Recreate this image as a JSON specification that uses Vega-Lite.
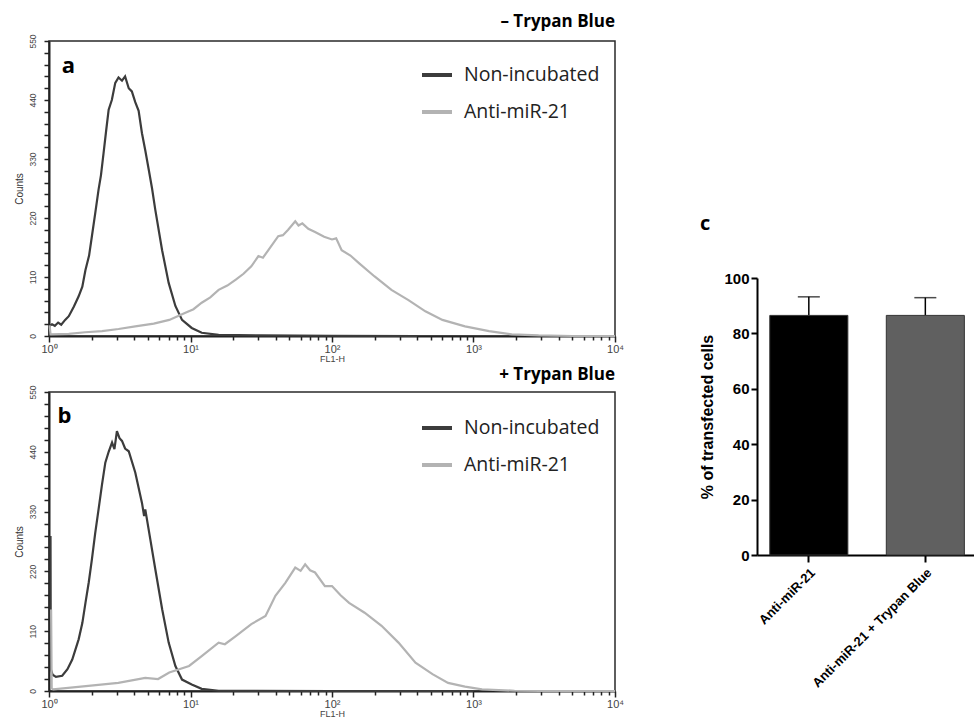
{
  "$schema": "https://vega.github.io/schema/vega-lite/v6.json",
  "padding": {"left": 13, "top": 12, "right": 0, "bottom": 0},
  "background": "white",
  "config": {"view": {"stroke": "#2a2a2a", "strokeWidth": 1.5}, "font": "Liberation Sans"},
  "datasets": {
    "histA": [
      {"fl": 1.0, "count": 18, "sample": "Non-incubated"},
      {"fl": 1.05, "count": 22, "sample": "Non-incubated"},
      {"fl": 1.1, "count": 19, "sample": "Non-incubated"},
      {"fl": 1.16, "count": 25, "sample": "Non-incubated"},
      {"fl": 1.22, "count": 21, "sample": "Non-incubated"},
      {"fl": 1.3, "count": 30, "sample": "Non-incubated"},
      {"fl": 1.38, "count": 37, "sample": "Non-incubated"},
      {"fl": 1.5, "count": 55, "sample": "Non-incubated"},
      {"fl": 1.62, "count": 74, "sample": "Non-incubated"},
      {"fl": 1.72, "count": 92, "sample": "Non-incubated"},
      {"fl": 1.81, "count": 123, "sample": "Non-incubated"},
      {"fl": 1.92, "count": 150, "sample": "Non-incubated"},
      {"fl": 2.01, "count": 186, "sample": "Non-incubated"},
      {"fl": 2.12, "count": 228, "sample": "Non-incubated"},
      {"fl": 2.24, "count": 273, "sample": "Non-incubated"},
      {"fl": 2.33, "count": 300, "sample": "Non-incubated"},
      {"fl": 2.43, "count": 341, "sample": "Non-incubated"},
      {"fl": 2.54, "count": 385, "sample": "Non-incubated"},
      {"fl": 2.64, "count": 422, "sample": "Non-incubated"},
      {"fl": 2.78, "count": 440, "sample": "Non-incubated"},
      {"fl": 2.94, "count": 472, "sample": "Non-incubated"},
      {"fl": 3.1, "count": 482, "sample": "Non-incubated"},
      {"fl": 3.28, "count": 476, "sample": "Non-incubated"},
      {"fl": 3.45, "count": 484, "sample": "Non-incubated"},
      {"fl": 3.66, "count": 462, "sample": "Non-incubated"},
      {"fl": 3.85, "count": 456, "sample": "Non-incubated"},
      {"fl": 4.07, "count": 436, "sample": "Non-incubated"},
      {"fl": 4.3, "count": 420, "sample": "Non-incubated"},
      {"fl": 4.54, "count": 378, "sample": "Non-incubated"},
      {"fl": 4.8, "count": 345, "sample": "Non-incubated"},
      {"fl": 5.07, "count": 310, "sample": "Non-incubated"},
      {"fl": 5.35, "count": 275, "sample": "Non-incubated"},
      {"fl": 5.64, "count": 235, "sample": "Non-incubated"},
      {"fl": 6.3, "count": 160, "sample": "Non-incubated"},
      {"fl": 7.01, "count": 99, "sample": "Non-incubated"},
      {"fl": 7.82, "count": 56, "sample": "Non-incubated"},
      {"fl": 8.71, "count": 30, "sample": "Non-incubated"},
      {"fl": 10.2, "count": 15, "sample": "Non-incubated"},
      {"fl": 12.0, "count": 6, "sample": "Non-incubated"},
      {"fl": 15.8, "count": 2, "sample": "Non-incubated"},
      {"fl": 31.6, "count": 1, "sample": "Non-incubated"},
      {"fl": 100, "count": 0.5, "sample": "Non-incubated"},
      {"fl": 400, "count": 0, "sample": "Non-incubated"},
      {"fl": 1.01, "count": 20, "sample": "Anti-miR-21"},
      {"fl": 1.025, "count": 3, "sample": "Anti-miR-21"},
      {"fl": 1.38, "count": 4, "sample": "Anti-miR-21"},
      {"fl": 1.8, "count": 7, "sample": "Anti-miR-21"},
      {"fl": 2.37, "count": 9, "sample": "Anti-miR-21"},
      {"fl": 3.1, "count": 13, "sample": "Anti-miR-21"},
      {"fl": 4.07, "count": 18, "sample": "Anti-miR-21"},
      {"fl": 5.5, "count": 23, "sample": "Anti-miR-21"},
      {"fl": 7.08, "count": 30, "sample": "Anti-miR-21"},
      {"fl": 9.12, "count": 43, "sample": "Anti-miR-21"},
      {"fl": 10.5, "count": 50, "sample": "Anti-miR-21"},
      {"fl": 12.0, "count": 62, "sample": "Anti-miR-21"},
      {"fl": 13.8, "count": 72, "sample": "Anti-miR-21"},
      {"fl": 15.8, "count": 86, "sample": "Anti-miR-21"},
      {"fl": 18.2, "count": 94, "sample": "Anti-miR-21"},
      {"fl": 20.9, "count": 105, "sample": "Anti-miR-21"},
      {"fl": 23.7, "count": 116, "sample": "Anti-miR-21"},
      {"fl": 26.9, "count": 130, "sample": "Anti-miR-21"},
      {"fl": 30.2, "count": 149, "sample": "Anti-miR-21"},
      {"fl": 32.5, "count": 146, "sample": "Anti-miR-21"},
      {"fl": 35.5, "count": 160, "sample": "Anti-miR-21"},
      {"fl": 41.7, "count": 186, "sample": "Anti-miR-21"},
      {"fl": 45.0, "count": 188, "sample": "Anti-miR-21"},
      {"fl": 49.0, "count": 198, "sample": "Anti-miR-21"},
      {"fl": 55.0, "count": 214, "sample": "Anti-miR-21"},
      {"fl": 58.0, "count": 206, "sample": "Anti-miR-21"},
      {"fl": 61.7, "count": 210, "sample": "Anti-miR-21"},
      {"fl": 68.0, "count": 200, "sample": "Anti-miR-21"},
      {"fl": 75.9, "count": 194, "sample": "Anti-miR-21"},
      {"fl": 88.0, "count": 185, "sample": "Anti-miR-21"},
      {"fl": 100, "count": 180, "sample": "Anti-miR-21"},
      {"fl": 107, "count": 182, "sample": "Anti-miR-21"},
      {"fl": 117, "count": 160, "sample": "Anti-miR-21"},
      {"fl": 135, "count": 150, "sample": "Anti-miR-21"},
      {"fl": 155, "count": 136, "sample": "Anti-miR-21"},
      {"fl": 200, "count": 111, "sample": "Anti-miR-21"},
      {"fl": 263, "count": 86, "sample": "Anti-miR-21"},
      {"fl": 347, "count": 67, "sample": "Anti-miR-21"},
      {"fl": 457, "count": 46, "sample": "Anti-miR-21"},
      {"fl": 603, "count": 30, "sample": "Anti-miR-21"},
      {"fl": 871, "count": 18, "sample": "Anti-miR-21"},
      {"fl": 1288, "count": 9, "sample": "Anti-miR-21"},
      {"fl": 1862, "count": 3, "sample": "Anti-miR-21"},
      {"fl": 2884, "count": 1, "sample": "Anti-miR-21"},
      {"fl": 5000, "count": 0, "sample": "Anti-miR-21"},
      {"fl": 10000, "count": 0, "sample": "Anti-miR-21"}
    ],
    "histB": [
      {"fl": 1.025, "count": 285, "sample": "Non-incubated"},
      {"fl": 1.03, "count": 40, "sample": "Non-incubated"},
      {"fl": 1.06, "count": 30, "sample": "Non-incubated"},
      {"fl": 1.12, "count": 26, "sample": "Non-incubated"},
      {"fl": 1.24, "count": 28, "sample": "Non-incubated"},
      {"fl": 1.35, "count": 40, "sample": "Non-incubated"},
      {"fl": 1.46, "count": 58, "sample": "Non-incubated"},
      {"fl": 1.62, "count": 95, "sample": "Non-incubated"},
      {"fl": 1.72, "count": 125, "sample": "Non-incubated"},
      {"fl": 1.81, "count": 162, "sample": "Non-incubated"},
      {"fl": 1.91, "count": 200, "sample": "Non-incubated"},
      {"fl": 2.01, "count": 242, "sample": "Non-incubated"},
      {"fl": 2.12, "count": 290, "sample": "Non-incubated"},
      {"fl": 2.24, "count": 334, "sample": "Non-incubated"},
      {"fl": 2.37, "count": 380, "sample": "Non-incubated"},
      {"fl": 2.5, "count": 420, "sample": "Non-incubated"},
      {"fl": 2.64, "count": 440, "sample": "Non-incubated"},
      {"fl": 2.79, "count": 457, "sample": "Non-incubated"},
      {"fl": 2.9, "count": 445, "sample": "Non-incubated"},
      {"fl": 3.02, "count": 478, "sample": "Non-incubated"},
      {"fl": 3.15, "count": 465, "sample": "Non-incubated"},
      {"fl": 3.28, "count": 460, "sample": "Non-incubated"},
      {"fl": 3.45, "count": 446, "sample": "Non-incubated"},
      {"fl": 3.66, "count": 441, "sample": "Non-incubated"},
      {"fl": 4.07, "count": 402, "sample": "Non-incubated"},
      {"fl": 4.54, "count": 346, "sample": "Non-incubated"},
      {"fl": 4.7, "count": 322, "sample": "Non-incubated"},
      {"fl": 4.79, "count": 334, "sample": "Non-incubated"},
      {"fl": 5.2, "count": 279, "sample": "Non-incubated"},
      {"fl": 5.64, "count": 224, "sample": "Non-incubated"},
      {"fl": 6.31, "count": 150, "sample": "Non-incubated"},
      {"fl": 7.01, "count": 89, "sample": "Non-incubated"},
      {"fl": 7.82, "count": 46, "sample": "Non-incubated"},
      {"fl": 8.71, "count": 21, "sample": "Non-incubated"},
      {"fl": 10.2, "count": 12, "sample": "Non-incubated"},
      {"fl": 12.0, "count": 4, "sample": "Non-incubated"},
      {"fl": 15.8, "count": 0.5, "sample": "Non-incubated"},
      {"fl": 100, "count": 0, "sample": "Non-incubated"},
      {"fl": 1000, "count": 0, "sample": "Non-incubated"},
      {"fl": 1.035, "count": 150, "sample": "Anti-miR-21"},
      {"fl": 1.045, "count": 5, "sample": "Anti-miR-21"},
      {"fl": 1.07, "count": 3, "sample": "Anti-miR-21"},
      {"fl": 1.82, "count": 9, "sample": "Anti-miR-21"},
      {"fl": 3.09, "count": 15, "sample": "Anti-miR-21"},
      {"fl": 4.79, "count": 24, "sample": "Anti-miR-21"},
      {"fl": 5.9, "count": 22, "sample": "Anti-miR-21"},
      {"fl": 7.08, "count": 34, "sample": "Anti-miR-21"},
      {"fl": 9.77, "count": 46, "sample": "Anti-miR-21"},
      {"fl": 12.0, "count": 64, "sample": "Anti-miR-21"},
      {"fl": 15.8, "count": 89, "sample": "Anti-miR-21"},
      {"fl": 17.5, "count": 86, "sample": "Anti-miR-21"},
      {"fl": 20.9, "count": 101, "sample": "Anti-miR-21"},
      {"fl": 26.9, "count": 123, "sample": "Anti-miR-21"},
      {"fl": 33.9, "count": 138, "sample": "Anti-miR-21"},
      {"fl": 36.5, "count": 155, "sample": "Anti-miR-21"},
      {"fl": 39.8, "count": 175, "sample": "Anti-miR-21"},
      {"fl": 46.8, "count": 199, "sample": "Anti-miR-21"},
      {"fl": 55.0, "count": 227, "sample": "Anti-miR-21"},
      {"fl": 60.0, "count": 221, "sample": "Anti-miR-21"},
      {"fl": 64.6, "count": 233, "sample": "Anti-miR-21"},
      {"fl": 70.0, "count": 222, "sample": "Anti-miR-21"},
      {"fl": 75.9, "count": 218, "sample": "Anti-miR-21"},
      {"fl": 89.1, "count": 193, "sample": "Anti-miR-21"},
      {"fl": 100, "count": 193, "sample": "Anti-miR-21"},
      {"fl": 115, "count": 176, "sample": "Anti-miR-21"},
      {"fl": 132, "count": 162, "sample": "Anti-miR-21"},
      {"fl": 170, "count": 144, "sample": "Anti-miR-21"},
      {"fl": 224, "count": 120, "sample": "Anti-miR-21"},
      {"fl": 295, "count": 89, "sample": "Anti-miR-21"},
      {"fl": 389, "count": 52, "sample": "Anti-miR-21"},
      {"fl": 513, "count": 31, "sample": "Anti-miR-21"},
      {"fl": 661, "count": 15, "sample": "Anti-miR-21"},
      {"fl": 871, "count": 8, "sample": "Anti-miR-21"},
      {"fl": 1148, "count": 3, "sample": "Anti-miR-21"},
      {"fl": 1950, "count": 0.5, "sample": "Anti-miR-21"},
      {"fl": 3000, "count": 0, "sample": "Anti-miR-21"},
      {"fl": 10000, "count": 0, "sample": "Anti-miR-21"}
    ],
    "bars": [
      {"group": "Anti-miR-21", "value": 86.5, "upper": 93.2},
      {"group": "Anti-miR-21 + Trypan Blue", "value": 86.5, "upper": 92.9}
    ],
    "labelA": [{"label": "a"}],
    "labelB": [{"label": "b"}]
  },
  "hconcat": [
    {
      "vconcat": [
        {
          "width": 566, "height": 295,
          "title": {"text": "– Trypan Blue", "anchor": "end", "frame": "group", "font": "Open Sans", "fontSize": 17, "fontWeight": "bold", "color": "black", "offset": 3},
          "layer": [
            {
              "data": {"name": "histA"},
              "mark": {"type": "line", "strokeWidth": 2.2},
              "encoding": {
                "x": {"field": "fl", "type": "quantitative", "scale": {"type": "log", "domain": [1, 10000], "nice": false},
                  "axis": {"values": [1,2,3,4,5,6,7,8,9,10,20,30,40,50,60,70,80,90,100,200,300,400,500,600,700,800,900,1000,2000,3000,4000,5000,6000,7000,8000,9000,10000],
                    "labelExpr": "datum.value==1?'10⁰':datum.value==10?'10¹':datum.value==100?'10²':datum.value==1000?'10³':datum.value==10000?'10⁴':''",
                    "tickSize": {"condition": {"test": "indexof([1,10,100,1000,10000], datum.value) >= 0", "value": 6}, "value": 4},
                    "tickColor": "#222", "tickWidth": 1.5, "domainColor": "#222", "domainWidth": 2, "grid": false,
                    "labelFontSize": 11, "labelColor": "#444", "labelPadding": 1, "labelOverlap": false, "labelFlush": false,
                    "title": "FL1-H", "titleFontSize": 9, "titleFontWeight": "normal", "titleColor": "#444", "titlePadding": 0}},
                "y": {"field": "count", "type": "quantitative", "scale": {"domain": [0, 550], "nice": false},
                  "axis": {"values": [0,22,44,66,88,110,132,154,176,198,220,242,264,286,308,330,352,374,396,418,440,462,484,506,528,550],
                    "labelExpr": "datum.value % 110 == 0 ? datum.label : ''", "labelAngle": -90,
                    "tickSize": 5, "tickColor": "#222", "tickWidth": 1.5, "domainColor": "#222", "domainWidth": 2, "grid": false,
                    "labelFontSize": 8.5, "labelColor": "#444", "labelPadding": 7, "labelOverlap": false, "labelFlush": false,
                    "title": "Counts", "titleFontSize": 10, "titleFontWeight": "normal", "titleColor": "#333", "titlePadding": 4}},
                "color": {"field": "sample", "type": "nominal", "sort": ["Non-incubated", "Anti-miR-21"],
                  "scale": {"domain": ["Non-incubated", "Anti-miR-21"], "range": ["#3c3c3c", "#b3b3b3"]},
                  "legend": {"orient": "none", "legendX": 371, "legendY": 17, "title": null, "symbolType": "stroke", "symbolSize": 900, "symbolStrokeWidth": 4,
                    "labelFont": "Open Sans", "labelFontSize": 19.5, "labelColor": "#222", "labelOffset": 10, "rowPadding": 10, "padding": 0}},
                "order": {"field": "fl", "type": "quantitative"}
              }
            },
            {
              "data": {"name": "labelA"},
              "mark": {"type": "text", "font": "Open Sans", "fontSize": 22, "fontWeight": "bold", "align": "left", "baseline": "alphabetic", "color": "black"},
              "encoding": {
                "x": {"datum": 1.23, "type": "quantitative", "scale": {"type": "log", "domain": [1, 10000], "nice": false},
                  "axis": {"values": [1,2,3,4,5,6,7,8,9,10,20,30,40,50,60,70,80,90,100,200,300,400,500,600,700,800,900,1000,2000,3000,4000,5000,6000,7000,8000,9000,10000],
                    "labelExpr": "datum.value==1?'10⁰':datum.value==10?'10¹':datum.value==100?'10²':datum.value==1000?'10³':datum.value==10000?'10⁴':''",
                    "tickSize": {"condition": {"test": "indexof([1,10,100,1000,10000], datum.value) >= 0", "value": 6}, "value": 4},
                    "tickColor": "#222", "tickWidth": 1.5, "domainColor": "#222", "domainWidth": 2, "grid": false,
                    "labelFontSize": 11, "labelColor": "#444", "labelPadding": 1, "labelOverlap": false, "labelFlush": false,
                    "title": "FL1-H", "titleFontSize": 9, "titleFontWeight": "normal", "titleColor": "#444", "titlePadding": 0}},
                "y": {"datum": 490, "type": "quantitative", "scale": {"domain": [0, 550], "nice": false},
                  "axis": {"values": [0,22,44,66,88,110,132,154,176,198,220,242,264,286,308,330,352,374,396,418,440,462,484,506,528,550],
                    "labelExpr": "datum.value % 110 == 0 ? datum.label : ''", "labelAngle": -90,
                    "tickSize": 5, "tickColor": "#222", "tickWidth": 1.5, "domainColor": "#222", "domainWidth": 2, "grid": false,
                    "labelFontSize": 8.5, "labelColor": "#444", "labelPadding": 7, "labelOverlap": false, "labelFlush": false,
                    "title": "Counts", "titleFontSize": 10, "titleFontWeight": "normal", "titleColor": "#333", "titlePadding": 4}},
                "text": {"field": "label"}}
            }
          ]
        },
        {
          "width": 566, "height": 299,
          "title": {"text": "+ Trypan Blue", "anchor": "end", "frame": "group", "font": "Open Sans", "fontSize": 17, "fontWeight": "bold", "color": "black", "offset": 1},
          "layer": [
            {
              "data": {"name": "histB"},
              "mark": {"type": "line", "strokeWidth": 2.2},
              "encoding": {
                "x": {"field": "fl", "type": "quantitative", "scale": {"type": "log", "domain": [1, 10000], "nice": false},
                  "axis": {"values": [1,2,3,4,5,6,7,8,9,10,20,30,40,50,60,70,80,90,100,200,300,400,500,600,700,800,900,1000,2000,3000,4000,5000,6000,7000,8000,9000,10000],
                    "labelExpr": "datum.value==1?'10⁰':datum.value==10?'10¹':datum.value==100?'10²':datum.value==1000?'10³':datum.value==10000?'10⁴':''",
                    "tickSize": {"condition": {"test": "indexof([1,10,100,1000,10000], datum.value) >= 0", "value": 6}, "value": 4},
                    "tickColor": "#222", "tickWidth": 1.5, "domainColor": "#222", "domainWidth": 2, "grid": false,
                    "labelFontSize": 11, "labelColor": "#444", "labelPadding": 1, "labelOverlap": false, "labelFlush": false,
                    "title": "FL1-H", "titleFontSize": 9, "titleFontWeight": "normal", "titleColor": "#444", "titlePadding": 0}},
                "y": {"field": "count", "type": "quantitative", "scale": {"domain": [0, 550], "nice": false},
                  "axis": {"values": [0,22,44,66,88,110,132,154,176,198,220,242,264,286,308,330,352,374,396,418,440,462,484,506,528,550],
                    "labelExpr": "datum.value % 110 == 0 ? datum.label : ''", "labelAngle": -90,
                    "tickSize": 5, "tickColor": "#222", "tickWidth": 1.5, "domainColor": "#222", "domainWidth": 2, "grid": false,
                    "labelFontSize": 8.5, "labelColor": "#444", "labelPadding": 7, "labelOverlap": false, "labelFlush": false,
                    "title": "Counts", "titleFontSize": 10, "titleFontWeight": "normal", "titleColor": "#333", "titlePadding": 4}},
                "color": {"field": "sample", "type": "nominal", "sort": ["Non-incubated", "Anti-miR-21"],
                  "scale": {"domain": ["Non-incubated", "Anti-miR-21"], "range": ["#3c3c3c", "#b3b3b3"]},
                  "legend": {"orient": "none", "legendX": 371, "legendY": 19, "title": null, "symbolType": "stroke", "symbolSize": 900, "symbolStrokeWidth": 4,
                    "labelFont": "Open Sans", "labelFontSize": 19.5, "labelColor": "#222", "labelOffset": 10, "rowPadding": 10, "padding": 0}},
                "order": {"field": "fl", "type": "quantitative"}
              }
            },
            {
              "data": {"name": "labelB"},
              "mark": {"type": "text", "font": "Open Sans", "fontSize": 22, "fontWeight": "bold", "align": "left", "baseline": "alphabetic", "color": "black"},
              "encoding": {
                "x": {"datum": 1.15, "type": "quantitative", "scale": {"type": "log", "domain": [1, 10000], "nice": false},
                  "axis": {"values": [1,2,3,4,5,6,7,8,9,10,20,30,40,50,60,70,80,90,100,200,300,400,500,600,700,800,900,1000,2000,3000,4000,5000,6000,7000,8000,9000,10000],
                    "labelExpr": "datum.value==1?'10⁰':datum.value==10?'10¹':datum.value==100?'10²':datum.value==1000?'10³':datum.value==10000?'10⁴':''",
                    "tickSize": {"condition": {"test": "indexof([1,10,100,1000,10000], datum.value) >= 0", "value": 6}, "value": 4},
                    "tickColor": "#222", "tickWidth": 1.5, "domainColor": "#222", "domainWidth": 2, "grid": false,
                    "labelFontSize": 11, "labelColor": "#444", "labelPadding": 1, "labelOverlap": false, "labelFlush": false,
                    "title": "FL1-H", "titleFontSize": 9, "titleFontWeight": "normal", "titleColor": "#444", "titlePadding": 0}},
                "y": {"datum": 493, "type": "quantitative", "scale": {"domain": [0, 550], "nice": false},
                  "axis": {"values": [0,22,44,66,88,110,132,154,176,198,220,242,264,286,308,330,352,374,396,418,440,462,484,506,528,550],
                    "labelExpr": "datum.value % 110 == 0 ? datum.label : ''", "labelAngle": -90,
                    "tickSize": 5, "tickColor": "#222", "tickWidth": 1.5, "domainColor": "#222", "domainWidth": 2, "grid": false,
                    "labelFontSize": 8.5, "labelColor": "#444", "labelPadding": 7, "labelOverlap": false, "labelFlush": false,
                    "title": "Counts", "titleFontSize": 10, "titleFontWeight": "normal", "titleColor": "#333", "titlePadding": 4}},
                "text": {"field": "label"}}
            }
          ]
        }
      ],
      "spacing": 1,
      "resolve": {"legend": {"color": "independent"}}
    },
    {
      "vconcat": [
        {"width": 1, "height": 173, "data": {"values": []}, "mark": "point", "view": {"stroke": null}},
        {
          "width": 223, "height": 277,
          "title": {"text": "c", "anchor": "start", "frame": "bounds", "font": "Open Sans", "fontSize": 20, "fontWeight": "bold", "color": "black", "offset": 37},
          "view": {"stroke": null},
          "data": {"name": "bars"},
          "encoding": {
            "x": {"field": "group", "type": "nominal", "sort": null,
              "scale": {"paddingInner": 0.33, "paddingOuter": 0.122, "align": 0.45},
              "axis": {"labelAngle": -45, "title": null, "labelFont": "Liberation Sans", "labelFontSize": 13, "labelFontWeight": "bold", "labelColor": "black",
                "domainColor": "black", "domainWidth": 2, "tickColor": "black", "tickWidth": 2, "tickSize": 7, "labelPadding": 4}}
          },
          "layer": [
            {
              "mark": {"type": "rule", "color": "black", "strokeWidth": 1.5},
              "encoding": {"y": {"field": "value", "type": "quantitative", "title": "% of transfected cells"}, "y2": {"field": "upper", "title": "% of transfected cells"}}
            },
            {
              "mark": {"type": "tick", "color": "black", "thickness": 1.5, "size": 22},
              "encoding": {"y": {"field": "upper", "type": "quantitative", "title": "% of transfected cells"}}
            },
            {
              "mark": {"type": "bar", "stroke": "#333", "strokeWidth": 1},
              "encoding": {
                "y": {"field": "value", "type": "quantitative", "scale": {"domain": [0, 100], "nice": false},
                  "axis": {"values": [0, 20, 40, 60, 80, 100], "title": "% of transfected cells", "grid": false,
                    "titleFont": "Liberation Sans", "titleFontSize": 16, "titleFontWeight": "bold", "titleColor": "black", "titlePadding": 8,
                    "labelFont": "Liberation Sans", "labelFontSize": 15, "labelFontWeight": "bold", "labelColor": "black", "labelPadding": 2,
                    "domainColor": "black", "domainWidth": 2, "tickColor": "black", "tickWidth": 2, "tickSize": 6}},
                "color": {"field": "group", "type": "nominal", "sort": null, "scale": {"domain": ["Anti-miR-21", "Anti-miR-21 + Trypan Blue"], "range": ["#000000", "#606060"]}, "legend": null}
              }
            }
          ]
        }
      ],
      "spacing": 0
    }
  ],
  "spacing": 74,
  "resolve": {"scale": {"color": "independent"}, "legend": {"color": "independent"}}
}
